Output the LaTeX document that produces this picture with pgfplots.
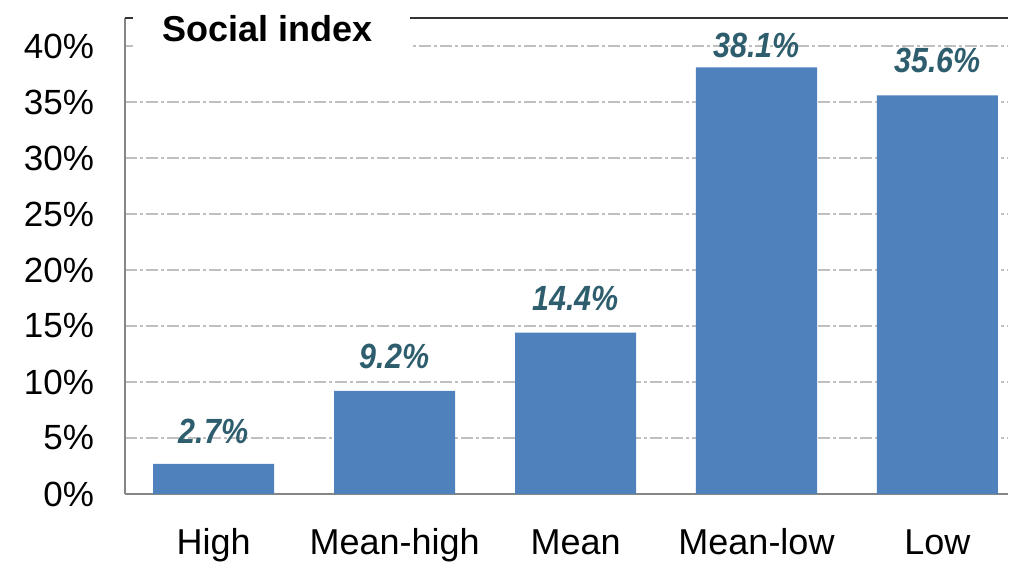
\documentclass[border=0pt]{standalone}
\usepackage{fontspec}
\setmainfont{Liberation Sans}
\newfontfamily\labelfont[FakeStretch=0.87]{Liberation Sans}
\usepackage{pgfplots}
\pgfplotsset{compat=1.18}
\definecolor{barblue}{HTML}{4F81BD}
\definecolor{labcol}{HTML}{2E5E6E}
\definecolor{gridgray}{HTML}{C0C0C0}
\definecolor{axgray}{HTML}{868686}
\begin{document}
\begin{tikzpicture}
\begin{axis}[
  name=ax,
  scale only axis, width=441.5pt, height=238pt,
  xmin=-0.49, xmax=4.39, ymin=0, ymax=42.5,
  axis y line*=left, axis x line*=bottom,
  axis line style={draw=axgray, line width=1pt, -},
  xtick=data, xticklabels={High,Mean-high,Mean,Mean-low,Low},
  ytick={0,5,...,40},
  yticklabel={\pgfmathprintnumber{\tick}\%},
  major tick length=0pt,
  ymajorgrids,
  grid style={gridgray, line width=0.8pt, dash pattern=on 6pt off 1.5pt on 1.5pt off 1.5pt},
  tick label style={font=\fontsize{17.5}{20}\selectfont},
  yticklabel style={xshift=-12pt},
  xticklabel style={anchor=base, yshift=-30.5pt, font=\fontsize{18}{21}\selectfont},
  /pgf/number format/assume math mode=true,
  clip=false,
  ybar, bar width=60.5pt,
]
\addplot[fill=barblue, draw=none,
  visualization depends on=value \thisrow{off}\as\off,
  nodes near coords={\pgfmathprintnumber[fixed,precision=1,fixed zerofill]{\pgfplotspointmeta}\%},
  nodes near coords style={yshift=\off pt, text=labcol, font=\labelfont\bfseries\itshape\fontsize{17.5}{20}\selectfont},
] table {
x y off
0 2.7 6.5
1 9.2 7.5
2 14.4 7.5
3 38.1 1
4 35.6 7.5
};
\draw[black!80, line width=0.75pt] (rel axis cs:0,1) -- (rel axis cs:1,1);
\fill[white] ([xshift=4pt,yshift=2pt]rel axis cs:0,1) rectangle ([xshift=142.5pt,yshift=-17pt]rel axis cs:0,1);
\node[anchor=base west, inner sep=0pt, font=\bfseries\fontsize{18}{21}\selectfont] at ([xshift=18.5pt,yshift=-12pt]rel axis cs:0,1) {Social index};
\end{axis}
\path ([xshift=-62.5pt,yshift=-34.5pt]ax.south west) rectangle ([xshift=1pt,yshift=9pt]ax.north east);
\end{tikzpicture}
\end{document}
